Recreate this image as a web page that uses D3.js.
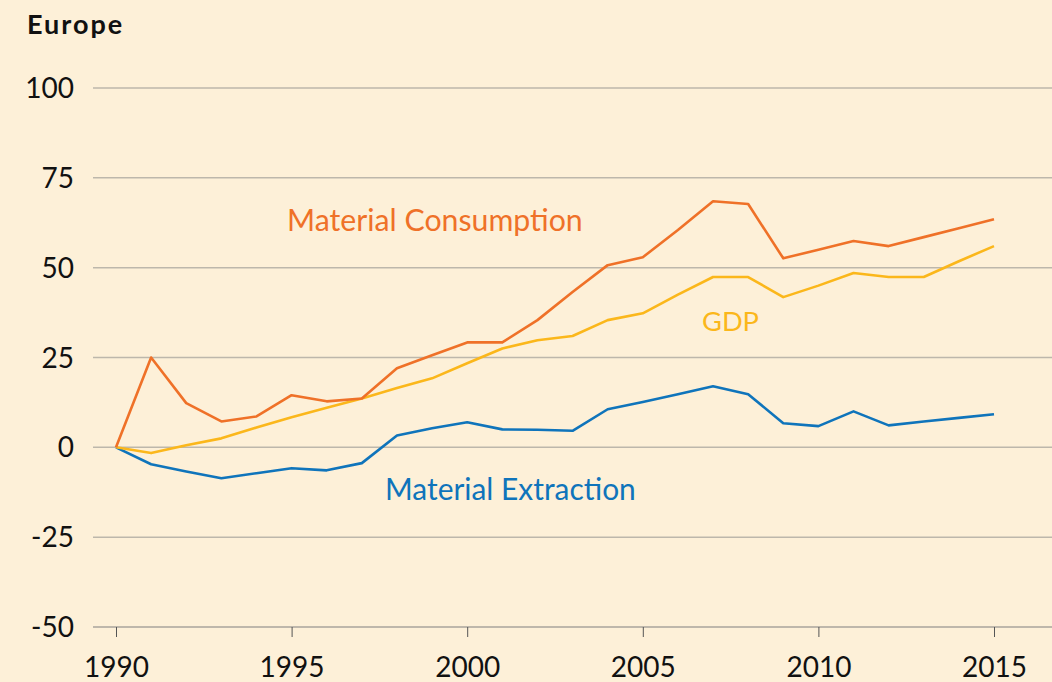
<!DOCTYPE html>
<html><head><meta charset="utf-8">
<script src="https://cdn.jsdelivr.net/npm/d3@7"></script>
<style>
html,body{margin:0;padding:0;background:#fdf0d8;}
svg{display:block;}
text{font-family:Lato,"Open Sans",sans-serif;}
</style></head>
<body>
<svg id="chart" width="1052" height="682"></svg>
<script>
const years = d3.range(1990, 2016);
const consumption = [0,25,12.3,7.2,8.6,14.5,12.8,13.6,22,25.6,29.2,29.2,35.4,43.2,50.7,52.9,60.5,68.5,67.7,52.6,55,57.4,56,58.5,61,63.5];
const gdp = [0,-1.6,0.6,2.5,5.5,8.4,11,13.6,16.5,19.2,23.4,27.5,29.8,31,35.4,37.3,42.5,47.4,47.4,41.8,45,48.5,47.4,47.4,51.8,56];
const extraction = [0,-4.7,-6.7,-8.6,-7.2,-5.8,-6.4,-4.4,3.3,5.3,7,5,4.9,4.6,10.6,12.6,14.8,17,14.8,6.7,5.9,10,6.1,7.2,8.2,9.2];
const yTicks = [-50,-25,0,25,50,75,100];
const xTicks = [1990,1995,2000,2005,2010,2015];
const title = "Europe";
const seriesNames = ["Material Consumption","GDP","Material Extraction"];

const svg = d3.select("#chart");
const x = d3.scaleLinear().domain([1990,2015]).range([116,994]);
const y = d3.scaleLinear().domain([-50,100]).range([627,88]);

// grid
svg.append("g").selectAll("line").data(yTicks).join("line")
  .attr("x1",93).attr("x2",1052)
  .attr("y1",d=>y(d)).attr("y2",d=>y(d))
  .attr("stroke",d=>d===-50?"#a9a59c":"#bdb7ab").attr("stroke-width",1.5);

// y labels
svg.append("g").selectAll("text").data(yTicks).join("text")
  .attr("x",74).attr("y",d=>y(d)).attr("dy","0.36em")
  .attr("text-anchor","end").attr("font-size",28).attr("fill","#111")
  .text(d=>d);

// x axis ticks
const xAxis = d3.axisBottom(x).tickValues(xTicks).tickFormat(d3.format("d")).tickSize(10);
const gx = svg.append("g").attr("transform",`translate(0,${y(-50)})`).call(xAxis);
gx.select(".domain").remove();
gx.selectAll(".tick line").attr("stroke","#555").attr("stroke-width",1);
gx.selectAll(".tick text").attr("font-size",28).attr("fill","#111")
  .attr("font-family","Lato,'Open Sans',sans-serif").attr("dy",null).attr("y",50);

// title
svg.append("text").attr("x",27).attr("y",34).attr("font-size",27).attr("font-weight","bold")
  .attr("letter-spacing",2).attr("fill","#111").text(title);

const line = d3.line().x((d,i)=>x(years[i])).y(d=>y(d));
const series = [
  {vals:extraction,color:"#0f74bb"},
  {vals:gdp,color:"#fbb71b"},
  {vals:consumption,color:"#ef7128"}
];
svg.append("g").selectAll("path").data(series).join("path")
  .attr("d",d=>line(d.vals)).attr("fill","none")
  .attr("stroke",d=>d.color).attr("stroke-width",2.6).attr("stroke-linejoin","round");

const labels = [
  {t:seriesNames[0],x:287,y:231,w:296,c:"#ef7128"},
  {t:seriesNames[1],x:702,y:331,w:57,c:"#fbb71b"},
  {t:seriesNames[2],x:385,y:500,w:251,c:"#0f74bb"}
];
labels.forEach(l=>{
  const t = svg.append("text").attr("x",l.x).attr("y",l.y).attr("font-size",26).attr("fill",l.c).text(l.t);
  const w = t.node().getComputedTextLength();
  t.attr("font-size",26*l.w/w);
});
</script>
</body></html>
